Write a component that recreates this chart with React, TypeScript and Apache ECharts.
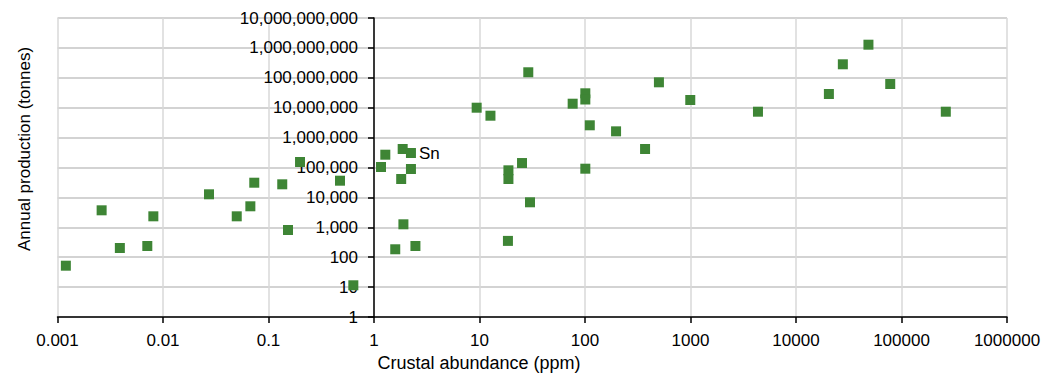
import React, { useEffect, useRef } from "react";
import * as echarts from "echarts";

// Crustal abundance (ppm) of each element
const abundance = [
  0.0012, 0.00262, 0.0039, 0.0071, 0.0081, 0.0273, 0.05, 0.0673, 0.0733, 0.135,
  0.153, 0.199, 0.476, 0.637, 1.165, 1.28, 1.87, 2.24, 2.24, 1.81,
  1.9, 1.59, 2.47, 9.4, 12.7, 29.0, 76.4, 100.7, 100.7, 111,
  197, 25.3, 18.8, 18.8, 100.7, 30.1, 18.6, 371, 502, 995,
  4360, 48600, 27800, 78200, 20500, 263000,
];

// Annual production (tonnes) of each element
const production = [
  52, 3700, 203, 237, 2330, 12700, 2330, 5040, 31000, 27400,
  812, 153000, 36200, 11.5, 104000, 268000, 416000, 305000, 89000, 41200,
  1260, 184, 237, 1.0e7, 5.4e6, 1.53e8, 1.36e7, 3.03e7, 1.88e7, 2.58e6,
  1.62e6, 141000, 80500, 41200, 91200, 6860, 351, 416000, 7.07e7, 1.81e7,
  7.35e6, 1.28e9, 2.83e8, 6.2e7, 2.87e7, 7.35e6,
];

const pointLabels: Record<number, string> = { 17: "Sn" };

const xTitle = "Crustal abundance (ppm)";
const yTitle = "Annual production (tonnes)";

const FONT = "'Liberation Sans', Arial, sans-serif";
const FS = 17;

export default function App() {
  const ref = useRef<HTMLDivElement>(null);

  useEffect(() => {
    document.body.style.margin = "0";
    const chart = echarts.init(ref.current!, null, { renderer: "svg" });

    const gridLeft = 57.5;
    const gridRight = 1007;
    const gridTop = 18;
    const gridBottom = 317;
    const gridWidth = gridRight - gridLeft;
    const xMinExp = -3;
    const xMaxExp = 6;
    const yAxisOffset = (-gridWidth * (0 - xMinExp)) / (xMaxExp - xMinExp);

    const data = abundance.map((a, i) => {
      const item: any = { value: [a, production[i]] };
      if (pointLabels[i]) {
        item.label = {
          show: true,
          formatter: pointLabels[i],
          position: "right",
          distance: 3,
          color: "#000",
          fontFamily: FONT,
          fontSize: FS,
        };
      }
      return item;
    });

    const fmtX = (v: number) =>
      v >= 1 ? String(Math.round(v)) : String(parseFloat(v.toPrecision(6)));
    const fmtY = (v: number) => Math.round(v).toLocaleString("en-US");

    chart.setOption({
      animation: false,
      backgroundColor: "#fff",
      textStyle: { fontFamily: FONT },
      grid: {
        left: gridLeft,
        right: 1051 - gridRight,
        top: gridTop,
        bottom: 374 - gridBottom,
        containLabel: false,
      },
      xAxis: {
        type: "log",
        logBase: 10,
        min: 0.001,
        max: 1000000,
        interval: 1,
        position: "bottom",
        axisLine: { show: true, onZero: false, lineStyle: { color: "#000", width: 1.5 } },
        axisTick: { show: true, inside: false, length: 6, lineStyle: { color: "#000", width: 1.5 } },
        axisLabel: {
          show: true,
          margin: 15,
          fontSize: FS,
          color: "#000",
          fontFamily: FONT,
          formatter: fmtX,
        },
        splitLine: { show: true, lineStyle: { color: "#d9d9d9", width: 1.5 } },
        minorTick: { show: false },
        minorSplitLine: { show: false },
      },
      yAxis: {
        type: "log",
        logBase: 10,
        min: 1,
        max: 10000000000,
        interval: 1,
        position: "left",
        offset: yAxisOffset,
        axisLine: { show: true, onZero: false, lineStyle: { color: "#000", width: 1.5 } },
        axisTick: { show: true, inside: false, length: 6, lineStyle: { color: "#000", width: 1.5 } },
        axisLabel: {
          show: true,
          margin: 16,
          fontSize: FS,
          color: "#000",
          fontFamily: FONT,
          formatter: fmtY,
        },
        splitLine: { show: true, lineStyle: { color: "#c4c4c4", width: 1.5 } },
        minorTick: { show: false },
        minorSplitLine: { show: false },
      },
      graphic: [
        {
          type: "text",
          x: 479,
          y: 363,
          style: {
            text: xTitle,
            fontFamily: FONT,
            fontSize: 18,
            fill: "#000",
            align: "center",
            verticalAlign: "middle",
          },
        },
        {
          type: "text",
          x: 24,
          y: 149,
          rotation: Math.PI / 2,
          style: {
            text: yTitle,
            fontFamily: FONT,
            fontSize: FS,
            fill: "#000",
            align: "center",
            verticalAlign: "middle",
          },
        },
      ],
      series: [
        {
          type: "scatter",
          symbol: "rect",
          symbolSize: 10,
          itemStyle: { color: "#3e8535", opacity: 1 },
          data,
        },
      ],
    });

    return () => chart.dispose();
  }, []);

  return <div ref={ref} style={{ width: 1051, height: 374 }} />;
}
